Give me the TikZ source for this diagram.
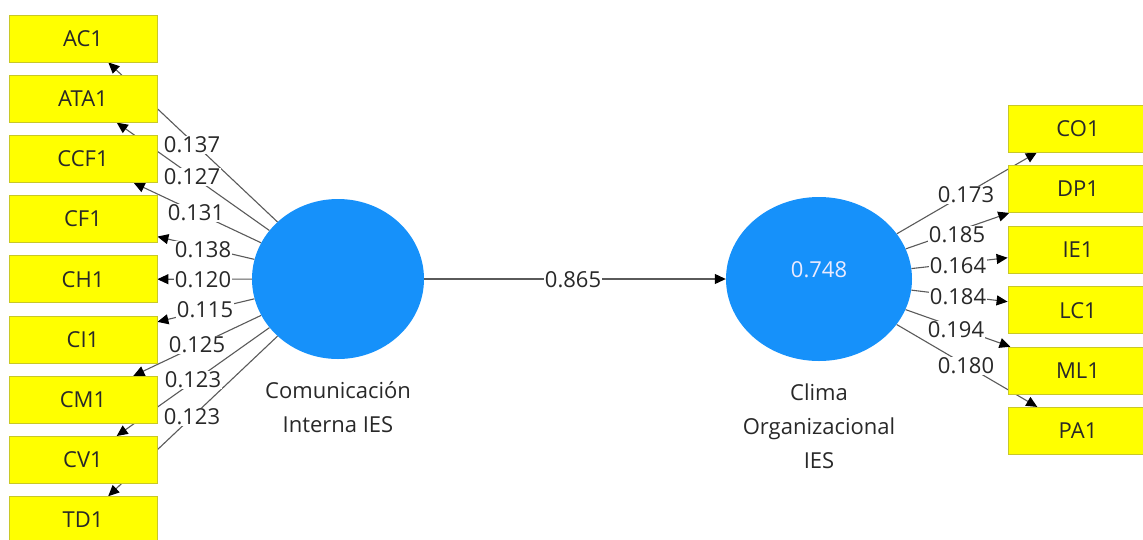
\documentclass[tikz,border=0pt]{standalone}
\usepackage{fontspec}
\setmainfont{Open Sans}
\usetikzlibrary{shapes.geometric,arrows.meta}
\pgfdeclarelayer{background}
\pgfsetlayers{background,main}
\definecolor{lvblue}{RGB}{22,145,250}
\definecolor{indfill}{RGB}{255,255,0}
\definecolor{indedge}{RGB}{200,200,40}
\definecolor{pathgray}{RGB}{90,90,90}
\definecolor{txtcol}{RGB}{40,40,40}
\begin{document}
\begin{tikzpicture}[x=1pt,y=-1pt,
  txt/.style={font=\fontsize{22}{34}\selectfont, text=txtcol},
  ind/.style={txt, rectangle, draw=indedge, fill=indfill, line width=0.8pt,
              minimum width=148pt, minimum height=47pt, inner sep=0pt},
  indr/.style={ind, minimum width=140pt},
  lat/.style={ellipse, fill=lvblue, draw=none, inner sep=0pt},
  wt/.style={txt, fill=white, inner sep=1pt},
  pth/.style={draw=pathgray, line width=1.1pt,
              -{Triangle[length=11pt,width=10pt,color=black]}},
  ]
\useasboundingbox (0,0) rectangle (1143,539);

% latent variables
\node[lat, minimum width=172pt, minimum height=160pt] (ci) at (338,279) {};
\node[lat, minimum width=186pt, minimum height=164pt] (co) at (819,279) {};
\node[txt, text=white!92!blue] (cov) at ([yshift=9pt]co.center) {0.748};
\node[txt, anchor=north, align=center, inner sep=0pt] (cilab) at (338,381) {Comunicación\\Interna IES};
\node[txt, anchor=north, align=center, inner sep=0pt] (colab) at (819,384) {Clima\\Organizacional\\IES};

% left indicators
\node[ind] (ac1)  at (83,38.5)  {AC1};
\node[ind] (ata1) at (83,98.7)  {ATA1};
\node[ind] (ccf1) at (83,158.9) {CCF1};
\node[ind] (cf1)  at (83,219.1) {CF1};
\node[ind] (ch1)  at (83,279.3) {CH1};
\node[ind] (ci1)  at (83,339.5) {CI1};
\node[ind] (cm1)  at (83,399.7) {CM1};
\node[ind] (cv1)  at (83,459.9) {CV1};
\node[ind] (td1)  at (83,520.1) {TD1};

% right indicators
\node[indr] (co1) at (1078,128.5) {CO1};
\node[indr] (dp1) at (1078,189)   {DP1};
\node[indr] (ie1) at (1078,249.8) {IE1};
\node[indr] (lc1) at (1078,310.2) {LC1};
\node[indr] (ml1) at (1078,370.6) {ML1};
\node[indr] (pa1) at (1078,430.8) {PA1};

% paths
\begin{pgfonlayer}{background}
\foreach \t in {ac1,ata1,ccf1,cf1,ch1,ci1,cm1,cv1,td1}
  \draw[pth] (ci) -- (\t);
\foreach \t in {co1,dp1,ie1,lc1,ml1,pa1}
  \draw[pth] (co) -- (\t);
\draw[pth] (ci) -- (co);
\end{pgfonlayer}

% weights
\node[wt] (w1) at (192,145) {0.137};
\node[wt] (w2) at (192,177) {0.127};
\node[wt] (w3) at (196,213) {0.131};
\node[wt] (w4) at (203,250) {0.138};
\node[wt] (w5) at (203,280) {0.120};
\node[wt] (w6) at (205,310) {0.115};
\node[wt] (w7) at (197,345) {0.125};
\node[wt] (w8) at (193,380) {0.123};
\node[wt] (w9) at (192,417) {0.123};

\node[wt] (r1) at (966,195) {0.173};
\node[wt] (r2) at (957,235) {0.185};
\node[wt] (r3) at (958,266) {0.164};
\node[wt] (r4) at (958,297) {0.184};
\node[wt] (r5) at (956,330) {0.194};
\node[wt] (r6) at (966,366) {0.180};

\node[wt] (pc) at (573,280) {0.865};
\end{tikzpicture}
\end{document}
